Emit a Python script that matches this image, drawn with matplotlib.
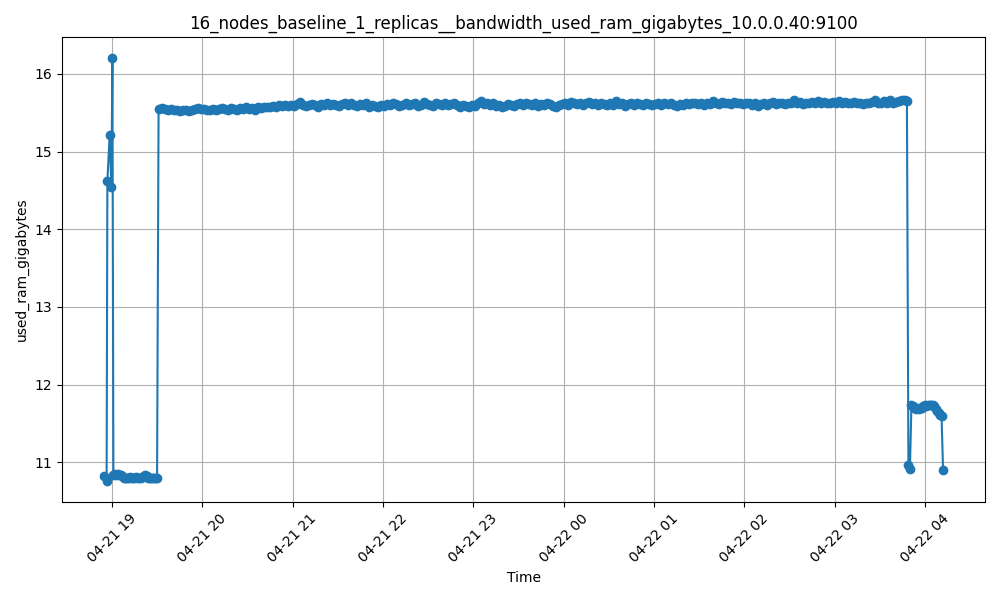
import pandas as pd
import matplotlib
matplotlib.use("Agg")
import matplotlib.pyplot as plt
import matplotlib.dates as mdates

# ---------------------------------------------------------------------------
# Data
# ---------------------------------------------------------------------------
# startup: a few irregular samples, then ~1 min samples at the low level
startup_times = ["2024-04-21 18:54:50", "2024-04-21 18:56:30", "2024-04-21 18:57:00",
                 "2024-04-21 18:58:30", "2024-04-21 18:59:40", "2024-04-21 19:00:20"]
startup_vals = [10.82, 10.76, 14.62, 15.21, 14.54, 16.20]

low_start = "2024-04-21 19:01"
low_vals = [10.84, 10.85, 10.84, 10.85, 10.83, 10.84, 10.82, 10.80, 10.80, 10.79,
            10.80, 10.81, 10.80, 10.79, 10.80, 10.81, 10.80, 10.79, 10.80, 10.81,
            10.82, 10.84, 10.82, 10.80, 10.79, 10.80, 10.79, 10.80, 10.79, 10.80]

# main plateau, 2 min samples from 19:31
plateau_start = "2024-04-21 19:31"
plateau_vals = [
    15.55, 15.56, 15.55, 15.54, 15.55, 15.53, 15.54, 15.52, 15.53, 15.54, 15.52, 15.53, 15.55, 15.56, 15.55,
    15.55, 15.54, 15.53, 15.55, 15.54, 15.55, 15.56, 15.55, 15.54, 15.56, 15.55, 15.54, 15.56, 15.55, 15.57,
    15.55, 15.56, 15.54, 15.57, 15.56, 15.57, 15.58, 15.57, 15.59, 15.58, 15.60, 15.59, 15.60, 15.59, 15.60,
    15.59, 15.61, 15.64, 15.60, 15.59, 15.60, 15.61, 15.60, 15.58, 15.61, 15.60, 15.62, 15.60, 15.61, 15.60,
    15.59, 15.61, 15.62, 15.60, 15.63, 15.60, 15.59, 15.61, 15.60, 15.62, 15.58, 15.60, 15.59, 15.58, 15.60,
    15.59, 15.61, 15.60, 15.62, 15.61, 15.59, 15.60, 15.62, 15.60, 15.61, 15.63, 15.59, 15.60, 15.64, 15.61,
    15.60, 15.59, 15.62, 15.61, 15.60, 15.63, 15.60, 15.61, 15.62, 15.60, 15.58, 15.60, 15.59, 15.58, 15.60,
    15.59, 15.62, 15.65, 15.61, 15.63, 15.60, 15.62, 15.59, 15.60, 15.58, 15.59, 15.61, 15.60, 15.59, 15.61,
    15.62, 15.60, 15.63, 15.61, 15.60, 15.62, 15.59, 15.61, 15.60, 15.62, 15.61, 15.59, 15.58, 15.60, 15.61,
    15.62, 15.60, 15.64, 15.62, 15.61, 15.63, 15.60, 15.62, 15.64, 15.61, 15.63, 15.60, 15.62, 15.61, 15.60,
    15.62, 15.60, 15.65, 15.61, 15.62, 15.59, 15.61, 15.63, 15.60, 15.62, 15.61, 15.60, 15.62, 15.61, 15.60,
    15.61, 15.63, 15.60, 15.62, 15.61, 15.63, 15.60, 15.59, 15.61, 15.60, 15.62, 15.61, 15.63, 15.62, 15.61,
    15.62, 15.60, 15.63, 15.61, 15.65, 15.62, 15.61, 15.64, 15.62, 15.63, 15.61, 15.64, 15.62, 15.63, 15.61,
    15.63, 15.62, 15.60, 15.62, 15.59, 15.61, 15.63, 15.60, 15.62, 15.64, 15.61, 15.62, 15.63, 15.61, 15.62,
    15.63, 15.66, 15.62, 15.64, 15.61, 15.63, 15.62, 15.64, 15.63, 15.65, 15.62, 15.64, 15.63, 15.62, 15.64,
    15.63, 15.65, 15.62, 15.64, 15.63, 15.62, 15.64, 15.63, 15.62, 15.61, 15.63, 15.62, 15.64, 15.67, 15.63,
    15.62, 15.65, 15.63, 15.66, 15.62, 15.64, 15.65, 15.66, 15.67,
]

# tail: 1 min samples from 03:48
tail_start = "2024-04-22 03:48"
tail_vals = [15.65, 10.96, 10.91, 11.74, 11.72, 11.70, 11.69, 11.70, 11.69, 11.70,
             11.70, 11.72, 11.73, 11.72, 11.73, 11.74, 11.73, 11.74, 11.72, 11.68,
             11.66, 11.63, 11.61, 11.60, 10.90]


def main():
    times = pd.DatetimeIndex(pd.to_datetime(startup_times))
    times = times.append(pd.date_range(low_start, periods=len(low_vals), freq="1min"))
    times = times.append(pd.date_range(plateau_start, periods=len(plateau_vals), freq="2min"))
    times = times.append(pd.date_range(tail_start, periods=len(tail_vals), freq="1min"))
    values = startup_vals + low_vals + plateau_vals + tail_vals

    fig, ax = plt.subplots(figsize=(10, 6), dpi=100)
    ax.plot(times, values, marker="o", linestyle="-", color="#1f77b4")

    ax.set_title("16_nodes_baseline_1_replicas__bandwidth_used_ram_gigabytes_10.0.0.40:9100")
    ax.set_xlabel("Time")
    ax.set_ylabel("used_ram_gigabytes")
    ax.xaxis.set_major_locator(mdates.HourLocator())
    ax.xaxis.set_major_formatter(mdates.DateFormatter("%m-%d %H"))
    plt.xticks(rotation=45)
    ax.grid(True)

    plt.tight_layout()
    fig.savefig("out.png")


if __name__ == "__main__":
    main()
